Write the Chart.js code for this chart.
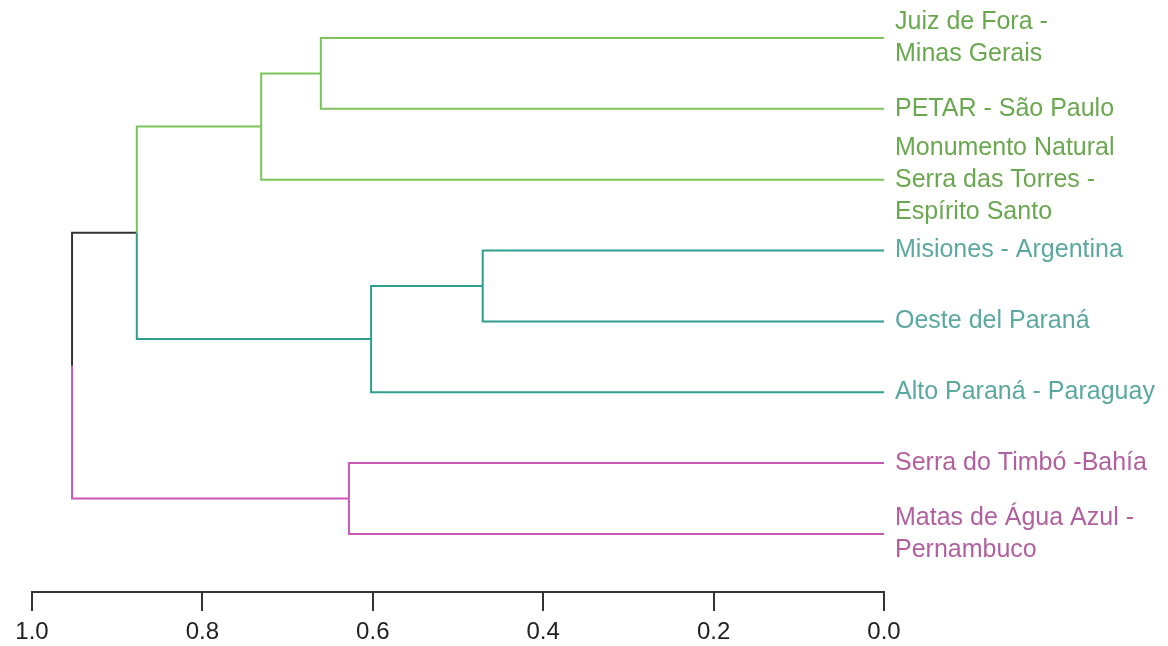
<!DOCTYPE html>
<html lang="pt">
<head>
    <meta charset="UTF-8">
    <title>Dendrograma</title>
    <script src="https://cdn.jsdelivr.net/npm/chart.js"></script>
    <style>
        html, body { margin: 0; padding: 0; background: #fff; }
        #wrap { width: 1168px; height: 646px; }
    </style>
</head>
<body>
    <div id="wrap"><canvas id="dendro"></canvas></div>
    <script>
        // leaves, top to bottom
        const leafLabels = [
            ['Juiz de Fora -', 'Minas Gerais'],
            ['PETAR - São Paulo'],
            ['Monumento Natural', 'Serra das Torres -', 'Espírito Santo'],
            ['Misiones - Argentina'],
            ['Oeste del Paraná'],
            ['Alto Paraná - Paraguay'],
            ['Serra do Timbó -Bahía'],
            ['Matas de Água Azul -', 'Pernambuco']
        ];
        const leafGroup = [0, 0, 0, 1, 1, 1, 2, 2];

        // merges (node ids: leaves 0-7, merges 8+)
        const mergeA = [0, 8, 3, 10, 9, 6, 12];
        const mergeB = [1, 2, 4, 5, 11, 7, 13];
        const mergeHeight = [0.661, 0.731, 0.471, 0.602, 0.877, 0.628, 0.953];

        const xTicks = [1.0, 0.8, 0.6, 0.4, 0.2, 0.0];

        const lineColors = ['#7cc35a', '#2e9e90', '#c957b6'];
        const textColors = ['#6aa84f', '#5ba8a0', '#b1609f'];
        const mixedColor = '#333333';
        const font = "'Liberation Sans', Arial, sans-serif";

        // node positions
        const nLeaves = leafLabels.length;
        const nodeY = leafLabels.map((_, i) => i);
        const nodeH = leafLabels.map(() => 0);
        const nodeGroup = leafGroup.slice();
        mergeA.forEach((a, k) => {
            const b = mergeB[k];
            nodeY.push((nodeY[a] + nodeY[b]) / 2);
            nodeH.push(mergeHeight[k]);
            nodeGroup.push(nodeGroup[a] === nodeGroup[b] ? nodeGroup[a] : -1);
        });

        // one dataset per branch, coloured by child
        const datasets = [];
        mergeA.forEach((a, k) => {
            const p = nLeaves + k;
            [a, mergeB[k]].forEach(c => {
                datasets.push({
                    data: [
                        { x: nodeH[p], y: nodeY[p] },
                        { x: nodeH[p], y: nodeY[c] },
                        { x: nodeH[c], y: nodeY[c] }
                    ],
                    borderColor: nodeGroup[c] < 0 ? mixedColor : lineColors[nodeGroup[c]],
                    borderWidth: 2,
                    pointRadius: 0,
                    tension: 0,
                    fill: false
                });
            });
        });

        const noPad = s => {
            s.paddingTop = 0; s.paddingBottom = 0;
            s.paddingLeft = 0; s.paddingRight = 0;
        };

        new Chart(document.getElementById('dendro'), {
            type: 'line',
            data: { datasets: datasets },
            options: {
                responsive: true,
                maintainAspectRatio: false,
                animation: false,
                layout: { padding: { left: 32, top: 0, right: 0, bottom: 0 } },
                plugins: { legend: { display: false }, tooltip: { enabled: false } },
                scales: {
                    x: {
                        type: 'linear',
                        reverse: true,
                        min: 0,
                        max: 1,
                        afterBuildTicks: s => { s.ticks = xTicks.map(v => ({ value: v })); },
                        afterFit: s => { s.height = 54; noPad(s); },
                        border: { display: true, color: '#333', width: 2 },
                        grid: { drawOnChartArea: false, drawTicks: true, tickLength: 19, color: '#333', lineWidth: 2 },
                        ticks: {
                            color: '#222',
                            padding: 7,
                            maxRotation: 0,
                            font: { family: font, size: 24 },
                            callback: v => Number(v).toFixed(1)
                        }
                    },
                    y: {
                        type: 'linear',
                        position: 'right',
                        reverse: true,
                        min: -0.536,
                        max: 7.819,
                        afterBuildTicks: s => { s.ticks = leafLabels.map((_, i) => ({ value: i })); },
                        afterFit: s => { s.width = 284; noPad(s); },
                        border: { display: false },
                        grid: { display: false, drawTicks: false },
                        ticks: {
                            autoSkip: false,
                            padding: 11,
                            font: { family: font, size: 25, lineHeight: 1.28 },
                            color: ctx => textColors[leafGroup[ctx.tick.value]],
                            callback: v => leafLabels[v]
                        }
                    }
                }
            }
        });
    </script>
</body>
</html>
